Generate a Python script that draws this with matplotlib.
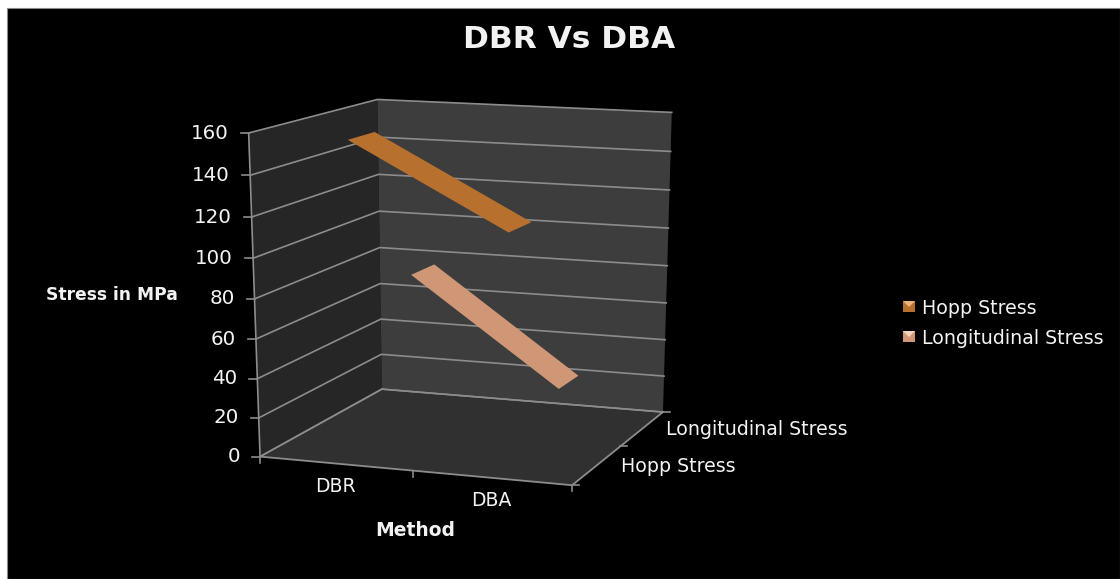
import numpy as np
import matplotlib
matplotlib.use("Agg")
import matplotlib.pyplot as plt
from matplotlib.patches import Polygon, Rectangle

# Chart data
methods = ["DBR", "DBA"]
series_names = ["Hopp Stress", "Longitudinal Stress"]
hopp_stress = [156, 116]
longitudinal_stress = [77, 22]
value_ticks = [0, 20, 40, 60, 80, 100, 120, 140, 160]
VMAX = 160

# Styling
BG = "#000000"
TEXT = "#f2f2f2"
GRID = "#8c8c8c"
SIDE_WALL = "#262626"
BACK_WALL = "#3d3d3d"
FLOOR = "#303030"
series_colors = ["#b8702e", "#cf9775"]
legend_light = ["#eeb27a", "#f6d3bd"]
FONT = "DejaVu Sans"

# Box corners on screen: (category, depth, value/VMAX) -> pixel position
corners = {
    (0, 0, 0): (260, 456), (1, 0, 0): (572, 486),
    (0, 1, 0): (382, 390), (1, 1, 0): (663, 411),
    (0, 0, 1): (249, 132), (1, 0, 1): (577, 150),
    (0, 1, 1): (377, 100), (1, 1, 1): (672, 112),
}


def fit_camera(pairs):
    rows, rhs = [], []
    for (a, b, c), (u, v) in pairs.items():
        rows.append([a, b, c, 1, 0, 0, 0, 0, -u * a, -u * b, -u * c])
        rhs.append(u)
        rows.append([0, 0, 0, 0, a, b, c, 1, -v * a, -v * b, -v * c])
        rhs.append(v)
    p = np.linalg.lstsq(np.array(rows, float), np.array(rhs, float), rcond=None)[0]
    return np.append(p, 1).reshape(3, 4)


CAM = fit_camera(corners)


def project(cat, depth, value):
    """Map category fraction, depth fraction and data value to screen pixels."""
    h = CAM @ np.array([cat, depth, value / VMAX, 1.0])
    return h[0] / h[2], h[1] / h[2]


fig = plt.figure(figsize=(11.2, 5.79), dpi=100, facecolor="white")
ax = fig.add_axes([0, 0, 1, 1])
ax.set_xlim(0, 1120)
ax.set_ylim(579, 0)
ax.axis("off")
ax.add_patch(Rectangle((7, 8), 1113, 571, fc=BG, ec="#8a8a8a", lw=0.8, zorder=0))

# Walls and floor
ax.add_patch(Polygon([project(0, 0, 0), project(0, 1, 0), project(0, 1, VMAX), project(0, 0, VMAX)],
                     fc=SIDE_WALL, ec="none", zorder=1))
ax.add_patch(Polygon([project(0, 1, 0), project(1, 1, 0), project(1, 1, VMAX), project(0, 1, VMAX)],
                     fc=BACK_WALL, ec="none", zorder=1))
ax.add_patch(Polygon([project(0, 0, 0), project(1, 0, 0), project(1, 1, 0), project(0, 1, 0)],
                     fc=FLOOR, ec="none", zorder=1))

# Gridlines along the side and back walls, with value ticks and labels
for v in value_ticks:
    pts = [project(0, 0, v), project(0, 1, v), project(1, 1, v)]
    ax.plot(*zip(*pts), color=GRID, lw=1.2, zorder=2, solid_joinstyle="miter")
    x0, y0 = project(0, 0, v)
    ax.plot([x0 - 8, x0], [y0, y0], color=GRID, lw=1.2, zorder=2)
    ax.text(x0 - 20, y0, str(v), ha="right", va="center", color=TEXT,
            fontsize=14.3, family=FONT, zorder=5)

# Vertical box edges and floor axes
ax.plot(*zip(project(0, 0, 0), project(0, 0, VMAX)), color=GRID, lw=1.2, zorder=2)
ax.plot(*zip(project(0, 0, 0), project(1, 0, 0), project(1, 1, 0)), color=GRID, lw=1.3, zorder=2)
ax.plot(*zip(project(0, 0, 0), project(0, 1, 0)), color=GRID, lw=1.1, zorder=2)
ax.plot(*zip(project(0, 1, 0), project(1, 1, 0)), color=GRID, lw=1.1, zorder=2)

# Category ticks and labels along the front floor edge
for c in (0, 0.5, 1):
    x0, y0 = project(c, 0, 0)
    ax.plot([x0, x0], [y0, y0 + 6], color=GRID, lw=1.2, zorder=2)
for i, name in enumerate(methods):
    x0, y0 = project((i + 0.5) / len(methods), 0, 0)
    ax.text(x0, y0 + 23, name, ha="center", va="center", color=TEXT,
            fontsize=13.5, family=FONT, zorder=5)

# Series ticks and labels along the right floor edge
for d in (0, 0.5, 1):
    x0, y0 = project(1, d, 0)
    ax.plot([x0, x0 + 7], [y0, y0], color=GRID, lw=1.2, zorder=2)
for i, name in enumerate(series_names):
    x0, y0 = project(1, (i + 0.5) / len(series_names), 0)
    ax.text(x0 + 24, y0 + 1, name, ha="left", va="center", color=TEXT,
            fontsize=13.7, family=FONT, zorder=5)

# One flat ribbon per series running between the two categories
RIBBON_HALF = 0.105
for i, vals in enumerate([hopp_stress, longitudinal_stress]):
    d = (i + 0.5) / len(series_names)
    c0, c1 = 0.5 / len(methods), 1.5 / len(methods)
    ax.add_patch(Polygon([project(c0, d - RIBBON_HALF, vals[0]),
                          project(c0, d + RIBBON_HALF, vals[0]),
                          project(c1, d + RIBBON_HALF, vals[1]),
                          project(c1, d - RIBBON_HALF, vals[1])],
                         fc=series_colors[i], ec="none", zorder=4))

# Titles
ax.text(569, 39, "DBR Vs DBA", ha="center", va="center", color=TEXT,
        fontsize=22.5, fontweight="bold", family=FONT)
ax.text(112, 295, "Stress in MPa", ha="center", va="center", color=TEXT,
        fontsize=12.3, fontweight="bold", family=FONT)
ax.text(415, 531, "Method", ha="center", va="center", color=TEXT,
        fontsize=13.5, fontweight="bold", family=FONT)

# Legend
for i, name in enumerate(series_names):
    y = 307 + 30 * i
    ax.add_patch(Rectangle((903, y - 6), 12, 11, fc=series_colors[i], ec="none"))
    ax.add_patch(Polygon([(903, y - 6), (915, y - 6), (909, y)], fc=legend_light[i], ec="none"))
    ax.text(922, y + 1, name, ha="left", va="center", color=TEXT, fontsize=13.7, family=FONT)

fig.savefig("out.png", dpi=100, facecolor=fig.get_facecolor())
